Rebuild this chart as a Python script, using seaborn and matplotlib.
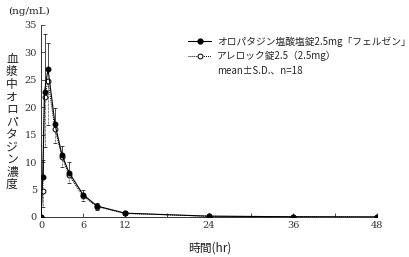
import matplotlib
matplotlib.use("Agg")
import matplotlib.pyplot as plt
import seaborn as sns
import pandas as pd
from matplotlib.lines import Line2D

# Data
time_hr = [0, 0.25, 0.5, 1, 2, 3, 4, 6, 8, 12, 24, 36, 48]
felsen_mean = [0, 7.3, 22.8, 27.0, 16.9, 11.3, 8.1, 4.1, 2.0, 0.7, 0.15, 0.05, 0.02]
felsen_sd = [0, 3.0, 10.5, 4.8, 3.0, 1.7, 2.0, 0.8, 0.5, 0.3, 0.08, 0.03, 0.01]
allelock_mean = [0, 4.8, 21.8, 24.8, 16.0, 11.0, 7.6, 3.8, 1.9, 0.65, 0.14, 0.05, 0.02]
allelock_sd = [0, 3.0, 9.0, 8.0, 2.5, 1.8, 1.4, 0.9, 0.6, 0.3, 0.08, 0.03, 0.01]
series_labels = ["オロパタジン塩酸塩錠2.5mg「フェルゼン」", "アレロック錠2.5（2.5mg）"]
note_label = "mean±S.D.、n=18"
xtick_vals = [0, 6, 12, 18, 24, 30, 36, 42, 48]
xtick_labels = ["0", "6", "12", "", "24", "", "36", "", "48"]
ytick_vals = [0, 5, 10, 15, 20, 25, 30, 35]

sns.set_style("ticks")
plt.rcParams['font.family'] = ['Noto Sans CJK JP', 'DejaVu Sans']

df = pd.DataFrame({
    "time": time_hr * 2,
    "conc": felsen_mean + allelock_mean,
    "drug": [series_labels[0]] * len(time_hr) + [series_labels[1]] * len(time_hr),
})

fig = plt.figure(figsize=(4.1, 2.57), dpi=100)
ax = fig.add_axes([41 / 410, 1 - 217 / 257, (377 - 41) / 410, (217 - 25) / 257])

ms = 3.5
# error bars: black upward, white downward
ax.errorbar(time_hr, felsen_mean, yerr=[[0] * len(time_hr), felsen_sd], fmt='none',
            ecolor='black', elinewidth=0.5, capsize=1.5, capthick=0.5, zorder=2)
eb = ax.errorbar(time_hr, allelock_mean, yerr=[allelock_sd, [0] * len(time_hr)], fmt='none',
                 ecolor='black', elinewidth=0.5, capsize=1.5, capthick=0.5, zorder=2)
for coll in eb[2]:
    coll.set_linestyle((0, (1, 1)))

sns.lineplot(data=df[df.drug == series_labels[1]], x="time", y="conc", ax=ax,
             color='black', linestyle=(0, (1, 1)), linewidth=0.7, marker='o',
             markersize=ms, markerfacecolor='white', markeredgecolor='black',
             markeredgewidth=0.7, legend=False, zorder=3)
sns.lineplot(data=df[df.drug == series_labels[0]], x="time", y="conc", ax=ax,
             color='black', linewidth=0.8, marker='o', markersize=ms,
             markerfacecolor='black', markeredgecolor='black', legend=False, zorder=4)

ax.set_xlim(0, 48)
ax.set_ylim(0, 35)
ax.set_xticks(xtick_vals)
ax.set_xticklabels(xtick_labels)
ax.set_yticks(ytick_vals)
ax.tick_params(direction='in', length=3, width=0.6, labelsize=7, pad=3)
for lab in ax.get_xticklabels() + ax.get_yticklabels():
    lab.set_family(['DejaVu Serif'])
ax.tick_params(axis='x', colors='#333333', labelcolor='#333333')
ax.tick_params(axis='y', colors='#333333', labelcolor='#333333')
sns.despine(ax=ax)
for s in ['left', 'bottom']:
    ax.spines[s].set_linewidth(0.7)
    ax.spines[s].set_color('#333333')
ax.set_xlabel("")
ax.set_ylabel("")

# axis labels
fig.text(12 / 410, 1 - 122 / 257, "\n".join("血漿中オロパタジン濃度"), ha='center', va='center',
         fontsize=8.5, linespacing=0.95, color='#222222')
fig.text(8 / 410, 1 - 11 / 257, "(ng/mL)", ha='left', va='center', fontsize=7.5,
         family=['DejaVu Serif'], color='#222222')
fig.text(210 / 410, 1 - 248 / 257, "時間(hr)", ha='center', va='center', fontsize=8.5,
         color='#222222')

handles = [
    Line2D([], [], color='black', linewidth=0.8, marker='o', markersize=ms,
           markerfacecolor='black'),
    Line2D([], [], color='black', linewidth=0.7, linestyle=(0, (1, 1)), marker='o',
           markersize=ms, markerfacecolor='white', markeredgewidth=0.7),
    Line2D([], [], color='none'),
]
ax.legend(handles, series_labels + [note_label], loc='upper left',
          bbox_to_anchor=(188 / 410, 1 - 36 / 257), bbox_transform=fig.transFigure,
          frameon=False, fontsize=7, handlelength=2.4, handletextpad=0.6,
          borderpad=0, borderaxespad=0, labelspacing=0.45)

fig.savefig("out.png", dpi=100)
